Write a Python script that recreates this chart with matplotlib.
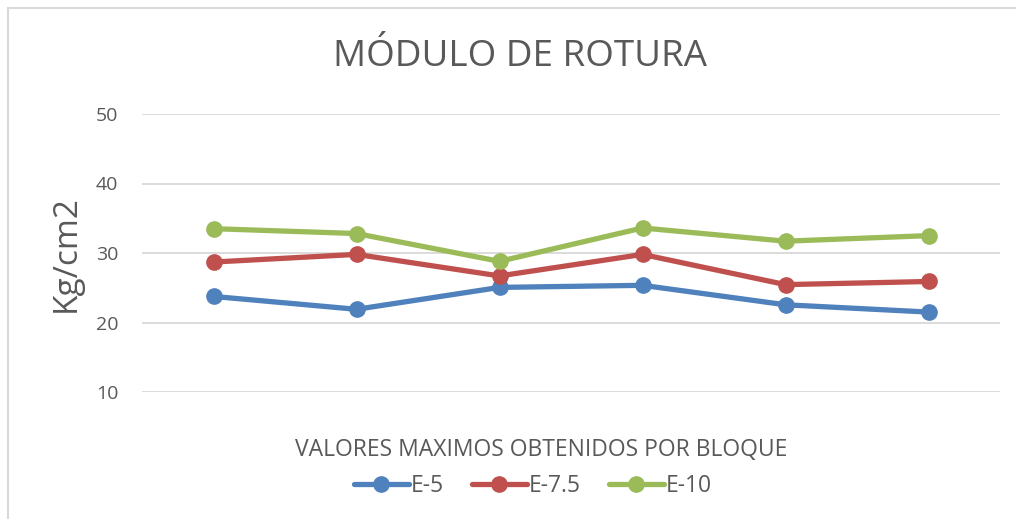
import matplotlib
matplotlib.use("Agg")
import matplotlib.pyplot as plt
from matplotlib.patches import Rectangle

# Valores
bloques = ["1", "2", "3", "4", "5", "6"]
e5 = [23.75, 21.9, 25.05, 25.35, 22.55, 21.5]
e75 = [28.7, 29.8, 26.7, 29.8, 25.45, 25.9]
e10 = [33.5, 32.8, 28.8, 33.6, 31.7, 32.5]

series = [("E-5", e5, "#4F81BD"), ("E-7.5", e75, "#C0504D"), ("E-10", e10, "#9BBB59")]
yticks = [10, 20, 30, 40, 50]

plt.rcParams["font.family"] = ["Open Sans", "DejaVu Sans"]
txt = "#595959"

fig = plt.figure(figsize=(10.16, 5.19), dpi=100)
ax = fig.add_axes([142 / 1016, 1 - 392 / 519, 858 / 1016, 278 / 519])

# Outer chart border (only left and top visible in the crop)
fig.patches.append(Rectangle((8 / 1016, -0.1), 1.2, 1 - 8 / 519 + 0.1,
                             transform=fig.transFigure, fill=False,
                             edgecolor="#D9D9D9", linewidth=1.5))

x = list(range(len(bloques)))
for name, vals, col in series:
    ax.plot(x, vals, color=col, linewidth=3.8, marker="o", markersize=11,
            label=name, solid_capstyle="round")

ax.set_xlim(-0.5, len(bloques) - 0.5)
ax.set_ylim(10, 50)
ax.set_yticks(yticks)
ax.set_xticks([])
ax.grid(axis="y", color="#D9D9D9", linewidth=1.3)
ax.set_axisbelow(True)
for s in ax.spines.values():
    s.set_visible(False)
ax.tick_params(axis="y", length=0, pad=17, labelsize=14, labelcolor=txt)

fig.text(520 / 1016, 1 - 57 / 519, "MÓDULO DE ROTURA", ha="center", va="center",
         fontsize=26.5, color=txt)
fig.text(66 / 1016, 1 - 254 / 519, "Kg/cm2", ha="center", va="center",
         rotation=90, fontsize=24, color=txt)
fig.text(541 / 1016, 1 - 450 / 519, "VALORES MAXIMOS OBTENIDOS POR BLOQUE",
         ha="center", va="center", fontsize=16.5, color=txt)

leg = fig.legend(loc="center", bbox_to_anchor=(533 / 1016, 1 - 486 / 519), ncol=3,
                 frameon=False, fontsize=16.5, handlelength=2.4, handletextpad=0.1,
                 columnspacing=1.2, labelcolor=txt)

fig.savefig("out.png", dpi=100)
